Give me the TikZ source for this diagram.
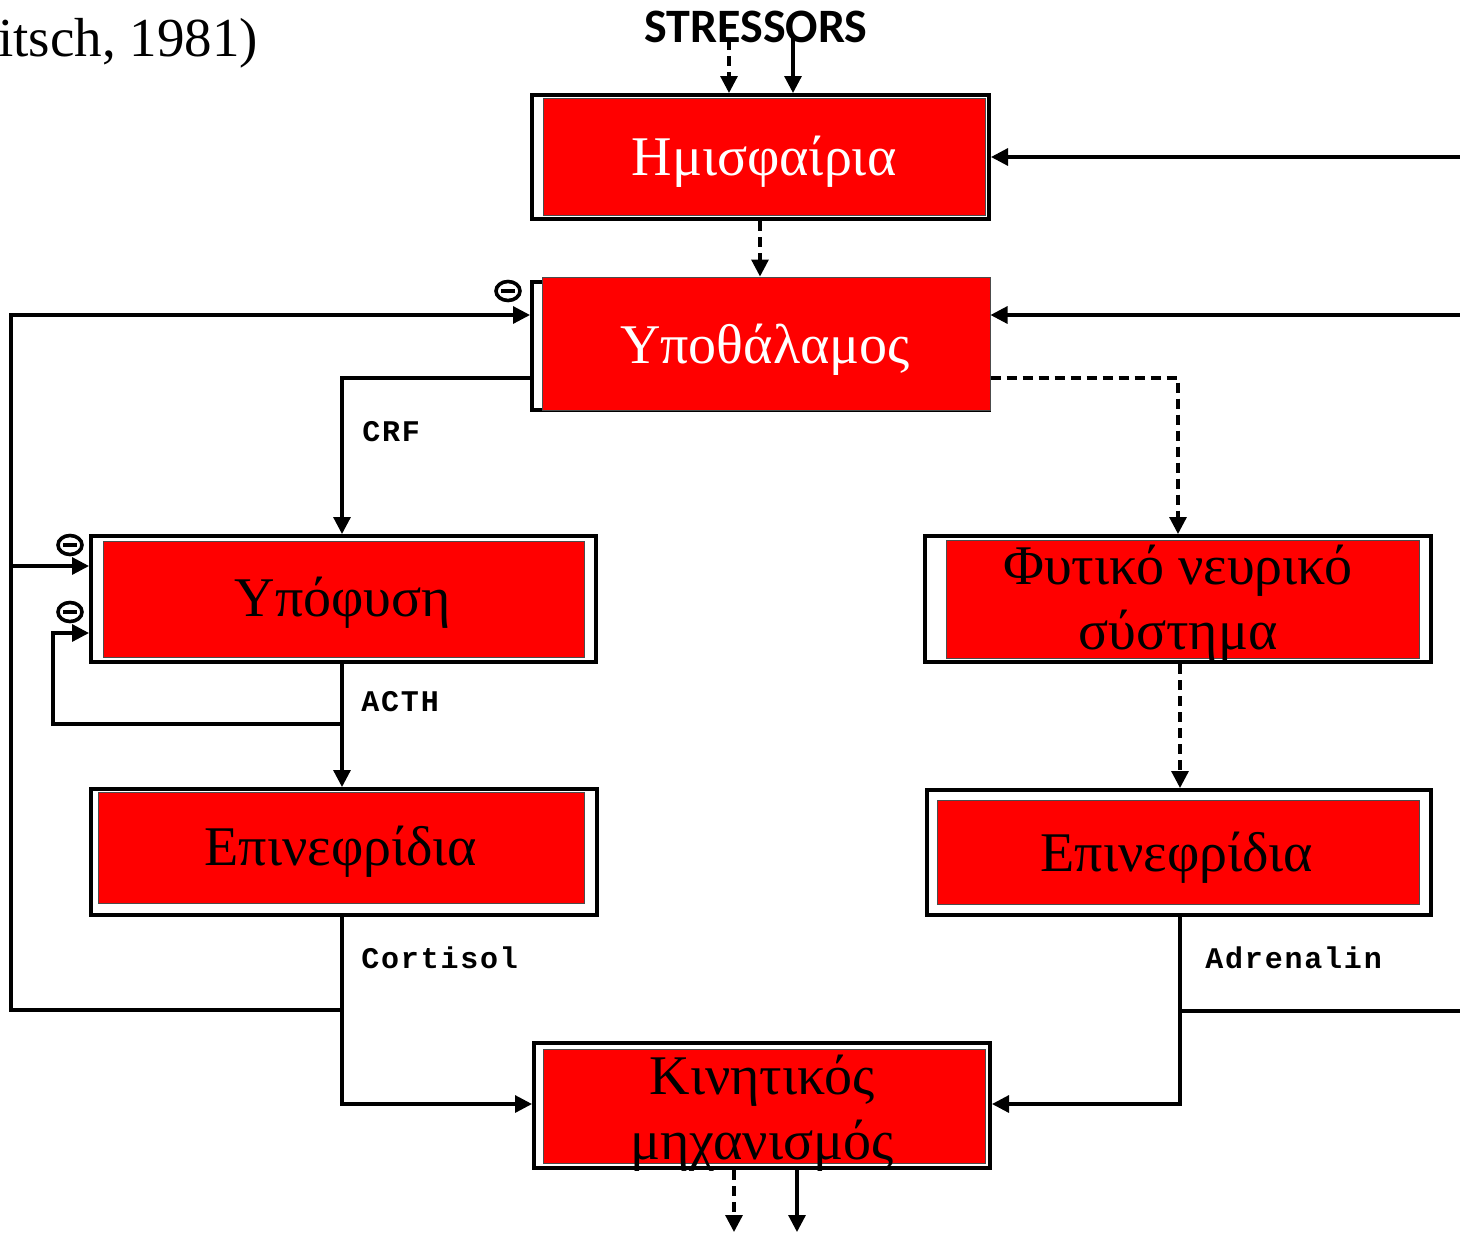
\documentclass[tikz,border=0pt]{standalone}
\usepackage{fontspec}
\setmainfont{Liberation Serif}
\newfontfamily\monofont[LetterSpace=6]{Liberation Mono}
\newfontfamily\headfont{Carlito}
\usetikzlibrary{arrows.meta,fit}

\definecolor{boxred}{RGB}{255,0,0}

\tikzset{
  frame/.style={draw=black, line width=2pt, inner sep=0pt, fill=white},
  redbox/.style={draw=black!70, line width=0.5pt, fill=boxred, inner sep=0pt},
  greek/.style={font=\fontsize{28pt}{32.5pt}\selectfont, align=center, inner sep=0pt},
  wtext/.style={greek, text=white},
  btext/.style={greek, text=black},
  link/.style={line width=1.6pt, draw=black},
  arr/.style={link, -{Triangle[length=8.5pt,width=8.5pt]}},
  darr/.style={arr, dash pattern=on 5pt off 3pt},
  hormone/.style={font=\monofont\bfseries\fontsize{15pt}{15pt}\selectfont, anchor=west, inner sep=0pt},
  minusring/.style={draw=black, line width=1.8pt},
  minusbar/.style={draw=black, line width=1.6pt},
}

% inhibition mark: an oval with a bar across it
\newcommand{\inhibmark}[1]{%
  \draw[minusring] (#1) ellipse [x radius=12, y radius=9.5];
  \draw[minusbar] (#1) ++(-7,0) -- ++(14,0);
}

\begin{document}
\begin{tikzpicture}[x=0.5pt, y=-0.5pt]
  % canvas
  \fill[white] (0,0) rectangle (1460,1232);
  \path[use as bounding box] (0,0) rectangle (1460,1232);

  % clipped citation at the top left
  \node[anchor=base west, inner sep=0pt, font=\fontsize{27.5pt}{32pt}\selectfont] (cite) at (-2,56) {itsch, 1981)};

  % stressors
  \node[font=\headfont\bfseries\fontsize{24pt}{24pt}\selectfont, inner sep=0pt] (stress) at (756,27) {STRESSORS};

  % boxes: outer frame, red panel, caption
  \node[frame, fit={(532,95)(989,219)}] (hemiF) {};
  \node[redbox, fit={(543,98)(985,215)}] (hemi) {};
  \node[wtext] (hemiT) at (764,162) {Ημισφαίρια};

  \node[frame, fit={(532,282)(989,410)}] (hypoF) {};
  \node[redbox, fit={(542,277)(990,410)}] (hypo) {};
  \node[wtext] (hypoT) at (765,350) {Υποθάλαμος};

  \node[frame, fit={(91,536)(596,662)}] (pitF) {};
  \node[redbox, fit={(103,541)(584,657)}] (pit) {};
  \node[btext] (pitT) at (343,603) {Υπόφυση};

  \node[frame, fit={(91,789)(597,915)}] (adlF) {};
  \node[redbox, fit={(98,792)(584,903)}] (adl) {};
  \node[btext] (adlT) at (341,852) {Επινεφρίδια};

  \node[frame, fit={(925,536)(1431,662)}] (ansF) {};
  \node[redbox, fit={(946,540)(1419,658)}] (ans) {};
  \node[btext] (ansT) at (1178,603) {Φυτικό νευρικό\\σύστημα};

  \node[frame, fit={(927,790)(1431,915)}] (adrF) {};
  \node[redbox, fit={(937,800)(1419,904)}] (adr) {};
  \node[btext] (adrT) at (1177,858) {Επινεφρίδια};

  \node[frame, fit={(534,1043)(990,1168)}] (motF) {};
  \node[redbox, fit={(543,1049)(985,1163)}] (mot) {};
  \node[btext] (motT) at (762,1113) {Κινητικός\\μηχανισμός};

  % stressor inputs
  \coordinate (sA) at (729,40);
  \coordinate (sB) at (793,36);
  \draw[darr] (sA) -- (sA |- hemiF.north);
  \draw[arr] (sB) -- (sB |- hemiF.north);

  % hemispheres to hypothalamus
  \draw[darr] (hemiF.south -| 760,0) -- (hypo.north -| 760,0);

  % inputs from the right edge
  \coordinate (eA) at (1460,157);
  \coordinate (eB) at (1460,315);
  \coordinate (eC) at (1460,1011);
  \draw[arr] (eA) -- (eA -| hemiF.east);
  \draw[arr] (eB) -- (eB -| hypo.east);

  % CRF
  \coordinate (crf) at (342,378);
  \draw[arr] (hypoF.west |- crf) -- (crf) -- (crf |- pitF.north);
  \node[hormone] (crfL) at (362,432) {CRF};

  % sympathetic branch
  \coordinate (sym) at (1178,378);
  \draw[darr] (hypo.east |- sym) -- (sym) -- (sym |- ansF.north);
  \draw[darr] (ansF.south -| 1180,0) -- (adrF.north -| 1180,0);

  % ACTH and its short loop
  \coordinate (acth) at (342,724);
  \coordinate (loopC) at (53,724);
  \coordinate (loopT) at (53,633);
  \draw[arr] (pitF.south -| acth) -- (adlF.north -| acth);
  \draw[arr] (acth) -- (loopC) -- (loopT) -- (loopT -| pitF.west);
  \node[hormone] (acthL) at (361,702) {ACTH};

  % cortisol
  \coordinate (cort) at (342,1104);
  \draw[arr] (adlF.south -| cort) -- (cort) -- (cort -| motF.west);
  \node[hormone] (cortL) at (361,958) {Cortisol};

  % long cortisol feedback
  \coordinate (fbA) at (342,1010);
  \coordinate (fbB) at (11,1010);
  \coordinate (fbC) at (11,315);
  \coordinate (fbD) at (11,566);
  \draw[arr] (fbA) -- (fbB) -- (fbC) -- (fbC -| hypoF.west);
  \draw[arr] (fbD) -- (fbD -| pitF.west);

  % adrenalin
  \coordinate (adrc) at (1180,1104);
  \coordinate (adrj) at (1180,1011);
  \draw[arr] (adrF.south -| adrc) -- (adrc) -- (adrc -| motF.east);
  \draw[link] (eC) -- (adrj);
  \node[hormone] (adrL) at (1205,958) {Adrenalin};

  % inhibition marks
  \coordinate (m1) at (508,291);
  \coordinate (m2) at (70,545);
  \coordinate (m3) at (70,612);
  \inhibmark{m1}
  \inhibmark{m2}
  \inhibmark{m3}

  % outputs
  \coordinate (oA) at (734,1232);
  \coordinate (oB) at (797,1232);
  \draw[darr] (motF.south -| oA) -- (oA);
  \draw[arr] (motF.south -| oB) -- (oB);
\end{tikzpicture}
\end{document}
